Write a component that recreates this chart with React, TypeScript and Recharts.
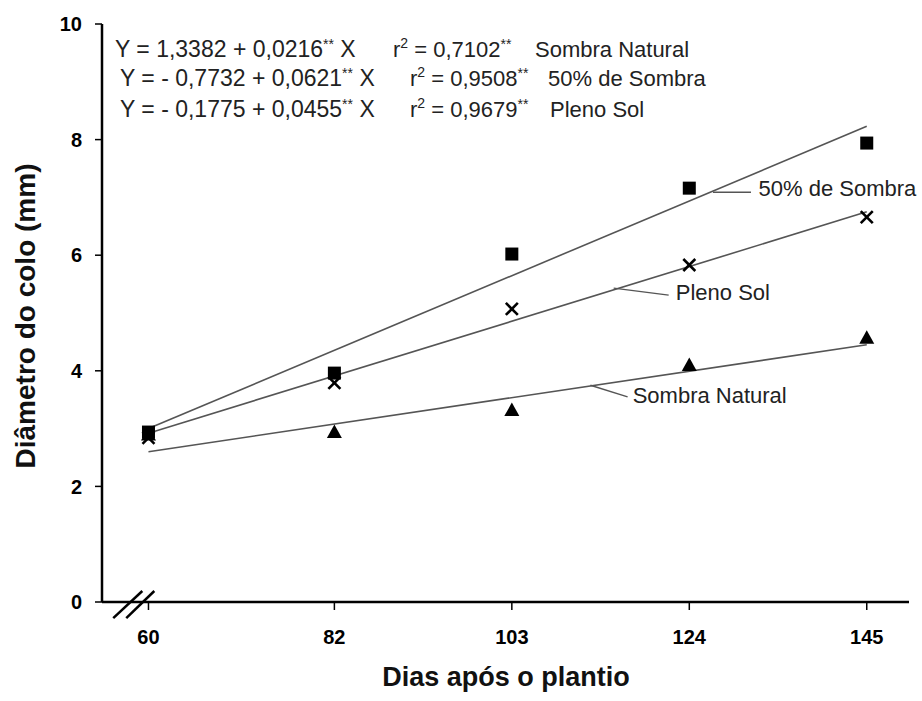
import React from 'react';
import { ComposedChart, XAxis, YAxis, Line, Scatter, ReferenceLine, ReferenceDot } from 'recharts';

const FONT = '"Liberation Sans", Arial, Helvetica, sans-serif';

// Tick labels
const xTicks = [60, 82, 103, 124, 145];
const yTicks = [0, 2, 4, 6, 8, 10];

const sombra50Points = [
  { x: 60, y: 2.94 },
  { x: 82, y: 3.96 },
  { x: 103, y: 6.02 },
  { x: 124, y: 7.16 },
  { x: 145, y: 7.94 },
];
const plenoSolPoints = [
  { x: 60, y: 2.84 },
  { x: 82, y: 3.79 },
  { x: 103, y: 5.07 },
  { x: 124, y: 5.83 },
  { x: 145, y: 6.66 },
];
const sombraNaturalPoints = [
  { x: 60, y: 2.9 },
  { x: 82, y: 2.94 },
  { x: 103, y: 3.32 },
  { x: 124, y: 4.1 },
  { x: 145, y: 4.57 },
];

// Fitted lines (endpoints)
const sombra50Fit = [
  { x: 60, y: 3.0 },
  { x: 145, y: 8.23 },
];
const plenoSolFit = [
  { x: 60, y: 2.92 },
  { x: 145, y: 6.75 },
];
const sombraNaturalFit = [
  { x: 60, y: 2.6 },
  { x: 145, y: 4.45 },
];

// Leader lines for series labels and label anchors
const leader50 = [{ x: 126.8, y: 7.09 }, { x: 131.3, y: 7.09 }];
const leaderPleno = [{ x: 115.05, y: 5.43 }, { x: 121.56, y: 5.31 }];
const leaderNatural = [{ x: 112.3, y: 3.75 }, { x: 116.7, y: 3.55 }];
const seriesLabels = [
  { x: 132.2, y: 7.16, text: '50% de Sombra' },
  { x: 122.4, y: 5.36, text: 'Pleno Sol' },
  { x: 117.3, y: 3.58, text: 'Sombra Natural' },
];

// Axis break marks
const break1 = [{ x: 55.83, y: -0.28 }, { x: 59.27, y: 0.19 }];
const break2 = [{ x: 57.37, y: -0.28 }, { x: 60.69, y: 0.19 }];

const equations = [
  { eq: 'Y = 1,3382 + 0,0216', r2: ' = 0,7102', name: 'Sombra Natural', ex: 115, rx: 393, nx: 535, by: 57 },
  { eq: 'Y = - 0,7732 + 0,0621', r2: ' = 0,9508', name: '50% de Sombra', ex: 120, rx: 410, nx: 548, by: 86 },
  { eq: 'Y = - 0,1775 + 0,0455', r2: ' = 0,9679', name: 'Pleno Sol', ex: 120, rx: 410, nx: 550, by: 117 },
];

const SquareShape = (p: any) => (
  <rect x={p.cx - 6.5} y={p.cy - 6.5} width={13} height={13} fill="#000" />
);
const CrossShape = (p: any) => (
  <g stroke="#000" strokeWidth={2.6}>
    <line x1={p.cx - 6} y1={p.cy - 6} x2={p.cx + 6} y2={p.cy + 6} />
    <line x1={p.cx - 6} y1={p.cy + 6} x2={p.cx + 6} y2={p.cy - 6} />
  </g>
);
const TriangleShape = (p: any) => (
  <polygon
    points={`${p.cx},${p.cy - 7.5} ${p.cx - 7.5},${p.cy + 6} ${p.cx + 7.5},${p.cy + 6}`}
    fill="#000"
  />
);

const lineColor = '#555';

export default function App() {
  return (
    <div style={{ position: 'absolute', left: 0, top: 0, width: 922, height: 701, background: '#fff' }}>
      <ComposedChart
        width={922}
        height={701}
        margin={{ top: 24, right: 13, bottom: 9, left: 5 }}
      >
        <XAxis
          type="number"
          dataKey="x"
          domain={[54.5, 150]}
          ticks={xTicks}
          allowDataOverflow
          height={90}
          tickSize={8}
          tickMargin={20}
          axisLine={{ stroke: '#000', strokeWidth: 2.5 }}
          tickLine={{ stroke: '#000', strokeWidth: 1.5 }}
          tick={{ fill: '#000', fontSize: 20, fontWeight: 'bold', fontFamily: FONT }}
        />
        <YAxis
          type="number"
          dataKey="y"
          domain={[0, 10]}
          ticks={yTicks}
          allowDataOverflow
          width={97}
          tickSize={7}
          tickMargin={13}
          axisLine={{ stroke: '#000', strokeWidth: 2.5 }}
          tickLine={{ stroke: '#000', strokeWidth: 1.5 }}
          tick={{ fill: '#000', fontSize: 20, fontWeight: 'bold', fontFamily: FONT }}
        />
        <Line data={sombra50Fit} dataKey="y" type="linear" stroke={lineColor} strokeWidth={1.6} dot={false} activeDot={false} isAnimationActive={false} />
        <Line data={plenoSolFit} dataKey="y" type="linear" stroke={lineColor} strokeWidth={1.6} dot={false} activeDot={false} isAnimationActive={false} />
        <Line data={sombraNaturalFit} dataKey="y" type="linear" stroke={lineColor} strokeWidth={1.6} dot={false} activeDot={false} isAnimationActive={false} />
        <ReferenceLine segment={leader50} stroke={lineColor} strokeWidth={1.4} ifOverflow="visible" />
        <ReferenceLine segment={leaderPleno} stroke={lineColor} strokeWidth={1.4} ifOverflow="visible" />
        <ReferenceLine segment={leaderNatural} stroke={lineColor} strokeWidth={1.4} ifOverflow="visible" />
        <ReferenceLine segment={break1} stroke="#000" strokeWidth={2.5} ifOverflow="visible" />
        <ReferenceLine segment={break2} stroke="#000" strokeWidth={2.5} ifOverflow="visible" />
        <Scatter data={sombraNaturalPoints} dataKey="y" shape={TriangleShape} isAnimationActive={false} />
        <Scatter data={plenoSolPoints} dataKey="y" shape={CrossShape} isAnimationActive={false} />
        <Scatter data={sombra50Points} dataKey="y" shape={SquareShape} isAnimationActive={false} />
        {seriesLabels.map((l) => (
          <ReferenceDot
            key={l.text}
            x={l.x}
            y={l.y}
            r={0}
            ifOverflow="visible"
            shape={(p: any) => (
              <text x={p.cx} y={p.cy} dy="0.36em" fill="#222" fontSize={22} fontFamily={FONT}>
                {l.text}
              </text>
            )}
          />
        ))}
      </ComposedChart>
      <svg
        width={922}
        height={701}
        style={{ position: 'absolute', left: 0, top: 0, pointerEvents: 'none' }}
      >
        {equations.map((e) => (
          <g key={e.name} fill="#222" fontFamily={FONT} fontSize={22}>
            <text x={e.ex} y={e.by} fontSize={23}>
              {e.eq}
              <tspan fontSize={14} dy={-8}>**</tspan>
              <tspan dy={8}> X</tspan>
            </text>
            <text x={e.rx} y={e.by}>
              r
              <tspan fontSize={14} dy={-9}>2</tspan>
              <tspan dy={9}>{e.r2}</tspan>
              <tspan fontSize={14} dy={-8}>**</tspan>
            </text>
            <text x={e.nx} y={e.by}>{e.name}</text>
          </g>
        ))}
        <text
          x={506}
          y={686}
          textAnchor="middle"
          fontSize={27}
          fontWeight="bold"
          fontFamily={FONT}
          fill="#111"
        >
          Dias após o plantio
        </text>
        <text
          x={0}
          y={0}
          transform="translate(35,316) rotate(-90)"
          textAnchor="middle"
          fontSize={28}
          fontWeight="bold"
          fontFamily={FONT}
          fill="#111"
        >
          Diâmetro do colo (mm)
        </text>
      </svg>
    </div>
  );
}
